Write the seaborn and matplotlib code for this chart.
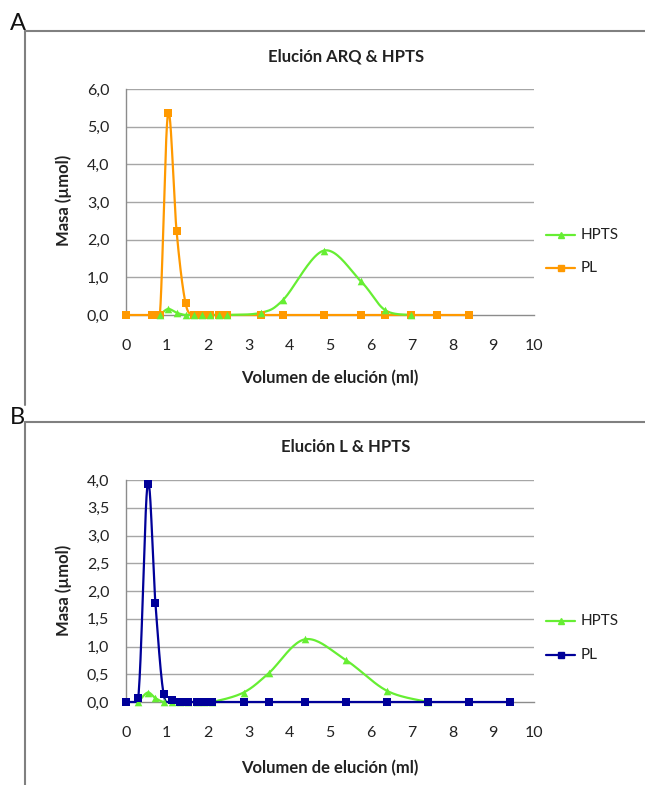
import numpy as np
import pandas as pd
import matplotlib
matplotlib.use("Agg")
import matplotlib.pyplot as plt
from matplotlib.lines import Line2D
import seaborn as sns

# ---------------- data ----------------
# Panel A: Elución ARQ & HPTS
a_pl_x = [0.0, 0.63, 0.83, 1.03, 1.24, 1.46, 1.67, 1.87, 2.07, 2.27, 2.47, 3.31, 3.85, 4.85, 5.76, 6.35, 6.99, 7.63, 8.41]
a_pl_y = [0.0, 0.0, 0.0, 5.36, 2.22, 0.31, 0.0, 0.0, 0.0, 0.0, 0.0, 0.0, 0.0, 0.0, 0.0, 0.0, 0.0, 0.0, 0.0]
a_hpts_x = [0.83, 1.03, 1.24, 1.46, 1.67, 1.87, 2.07, 2.27, 2.47, 3.31, 3.85, 4.85, 5.76, 6.35, 6.99]
a_hpts_y = [0.0, 0.16, 0.06, 0.0, 0.0, 0.0, 0.0, 0.0, 0.0, 0.06, 0.40, 1.71, 0.89, 0.13, 0.0]

# Panel B: Elución L & HPTS
b_pl_x = [0.0, 0.30, 0.53, 0.72, 0.92, 1.13, 1.32, 1.53, 1.73, 1.91, 2.12, 2.88, 3.50, 4.39, 5.38, 6.40, 7.40, 8.40, 9.41]
b_pl_y = [0.0, 0.07, 3.93, 1.79, 0.15, 0.03, 0.0, 0.0, 0.0, 0.0, 0.0, 0.0, 0.0, 0.0, 0.0, 0.0, 0.0, 0.0, 0.0]
b_hpts_x = [0.30, 0.53, 0.72, 0.92, 1.13, 1.32, 1.53, 1.73, 1.91, 2.12, 2.88, 3.50, 4.39, 5.38, 6.40, 7.40]
b_hpts_y = [0.0, 0.17, 0.07, 0.0, 0.0, 0.0, 0.0, 0.0, 0.0, 0.0, 0.17, 0.52, 1.13, 0.76, 0.20, 0.0]

x_ticks = list(range(0, 11))
a_y_ticks = [0, 1, 2, 3, 4, 5, 6]
b_y_ticks = [0, 0.5, 1.0, 1.5, 2.0, 2.5, 3.0, 3.5, 4.0]

titles = ["Elución ARQ & HPTS", "Elución L & HPTS"]
xlabel = "Volumen de elución (ml)"
ylabel = "Masa (µmol)"
series_names = ["HPTS", "PL"]
panel_letters = ["A", "B"]

GREEN = "#66ee33"
ORANGE = "#ff9900"
NAVY = "#000099"
GRID = "#a6a6a6"
FONT = ["Lato", "DejaVu Sans"]


def smooth(xs, ys, n=24):
    """Excel-like smoothed line (Catmull-Rom as cubic Bezier), clamped to the data floor."""
    xs = np.asarray(xs, float)
    ys = np.asarray(ys, float)
    P = np.column_stack([xs, ys])
    out = [P[0]]
    for i in range(len(P) - 1):
        p0 = P[i - 1] if i > 0 else P[i]
        p1 = P[i]
        p2 = P[i + 1]
        p3 = P[i + 2] if i + 2 < len(P) else P[i + 1]
        c1 = p1 + (p2 - p0) / 6.0
        c2 = p2 - (p3 - p1) / 6.0
        t = np.linspace(0, 1, n)[1:, None]
        seg = ((1 - t) ** 3) * p1 + 3 * ((1 - t) ** 2) * t * c1 + 3 * (1 - t) * t ** 2 * c2 + t ** 3 * p2
        out.extend(seg)
    out = np.array(out)
    return out[:, 0], np.maximum(out[:, 1], ys.min())


sns.set_theme(style="white")
plt.rcParams["font.family"] = FONT

fig = plt.figure(figsize=(6.45, 7.85), dpi=100)
W, H = 645.0, 785.0


def fx(px):
    return px / W


def fy(py):
    return 1 - py / H


def draw_panel(ax, title, hx, hy, px, py, pl_color, yticks, ymax, title_y, letter, frame_top, frame_bottom,
               letter_y, xlabel_y, leg_y1, leg_y2, ylabel_y, hpts_on_top):
    sx, sy = smooth(hx, hy)
    dfh = pd.DataFrame({"x": sx, "y": sy})
    sx2, sy2 = smooth(px, py)
    dfp = pd.DataFrame({"x": sx2, "y": sy2})
    zh = 4 if hpts_on_top else 3
    zp = 3 if hpts_on_top else 4
    sns.lineplot(data=dfp, x="x", y="y", ax=ax, color=pl_color, lw=1.6, sort=False, estimator=None, zorder=zp,
                 clip_on=False)
    sns.lineplot(data=dfh, x="x", y="y", ax=ax, color=GREEN, lw=1.6, sort=False, estimator=None, zorder=zh,
                 clip_on=False)
    sns.scatterplot(x=px, y=py, ax=ax, marker="s", s=30, color=pl_color, edgecolor=pl_color, linewidth=0,
                    zorder=zp + 2, clip_on=False)
    sns.scatterplot(x=hx, y=hy, ax=ax, marker="^", s=30, color=GREEN, edgecolor=GREEN, linewidth=0,
                    zorder=zh + 2, clip_on=False)

    ax.set_xlim(0, 10)
    ax.set_ylim(0, ymax)
    ax.set_xticks(x_ticks)
    ax.set_xticklabels([str(v) for v in x_ticks])
    ax.set_yticks(yticks)
    ax.set_yticklabels([f"{v:.1f}".replace(".", ",") for v in yticks])
    ax.set_xlabel("")
    ax.set_ylabel("")
    ax.grid(False)
    for v in yticks[1:]:
        ax.axhline(v, color=GRID, lw=1.0, zorder=1)
    for s in ["top", "right"]:
        ax.spines[s].set_visible(False)
    for s in ["left", "bottom"]:
        ax.spines[s].set_color("#8c8c8c")
        ax.spines[s].set_linewidth(1.0)
    ax.tick_params(axis="both", which="major", direction="out", length=5, width=1.0, color="#8c8c8c",
                   labelsize=11.5, labelcolor="#222222")
    ax.tick_params(axis="x", pad=12)
    ax.tick_params(axis="y", length=6, pad=6)
    ax.set_facecolor("white")

    fig.text(fx(346), fy(title_y), title, ha="center", va="center", fontsize=12, fontweight="bold",
             color="#222222")
    fig.text(fx(330), fy(xlabel_y), xlabel, ha="center", va="center", fontsize=12, fontweight="bold",
             color="#222222")
    fig.text(fx(64), fy(ylabel_y), ylabel, ha="center", va="center", rotation=90, fontsize=12,
             fontweight="bold", color="#222222")
    fig.text(fx(10), fy(letter_y), letter, ha="left", va="center", fontsize=17, color="#111111")

    # chart-area frame (top & left edges)
    fig.add_artist(Line2D([fx(25), fx(645)], [fy(frame_top), fy(frame_top)], color="#808080", lw=1.5))
    fig.add_artist(Line2D([fx(25), fx(25)], [fy(frame_top), fy(frame_bottom)], color="#808080", lw=1.5))

    # legend
    for name, col, mk, ly in [(series_names[0], GREEN, "^", leg_y1), (series_names[1], pl_color, "s", leg_y2)]:
        fig.add_artist(Line2D([fx(546), fx(575)], [fy(ly), fy(ly)], color=col, lw=1.6))
        fig.add_artist(Line2D([fx(560.5)], [fy(ly)], color=col, marker=mk, markersize=5, lw=0))
        fig.text(fx(581), fy(ly), name, ha="left", va="center", fontsize=11, color="#222222")


axA = fig.add_axes([fx(126), fy(315), fx(534) - fx(126), fy(89) - fy(315)])
draw_panel(axA, titles[0], a_hpts_x, a_hpts_y, a_pl_x, a_pl_y, ORANGE, a_y_ticks, 6, 57, panel_letters[0], 31,
           405, 24, 378, 235, 268, 200, hpts_on_top=True)

axB = fig.add_axes([fx(126), fy(702), fx(534) - fx(126), fy(480) - fy(702)])
draw_panel(axB, titles[1], b_hpts_x, b_hpts_y, b_pl_x, b_pl_y, NAVY, b_y_ticks, 4, 447, panel_letters[1], 422,
           785, 418, 768, 621, 655, 590, hpts_on_top=False)

fig.savefig("out.png", dpi=100, facecolor="white")
